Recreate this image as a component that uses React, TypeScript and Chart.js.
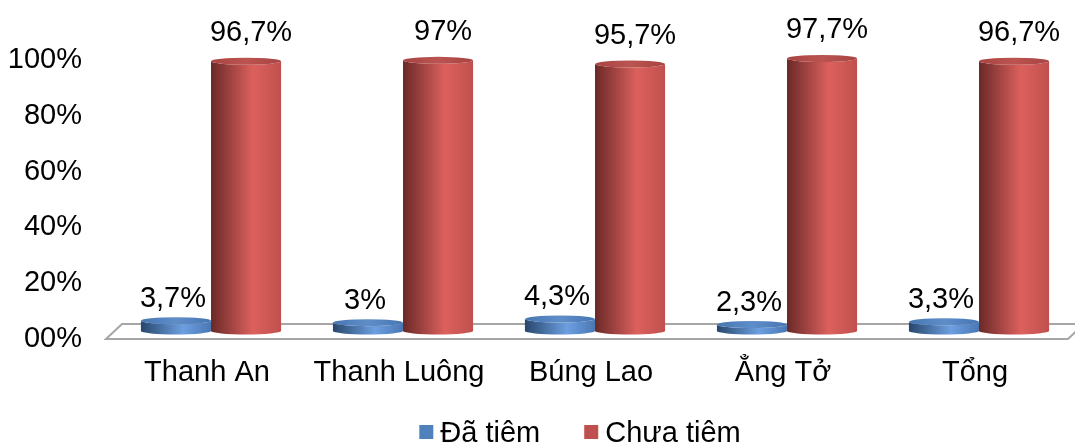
import { useEffect, useRef } from "react";
import { Chart, registerables } from "chart.js";

Chart.register(...registerables);

const categories = ["Thanh An", "Thanh Luông", "Búng Lao", "Ẳng Tở", "Tổng"];
const daTiem = [3.7, 3, 4.3, 2.3, 3.3];
const chuaTiem = [96.7, 97, 95.7, 97.7, 96.7];
const yTickLabels = ["00%", "20%", "40%", "60%", "80%", "100%"];
const seriesNames = ["Đã tiêm", "Chưa tiêm"];

const FONT = '"Liberation Sans", Arial, sans-serif';

const palettes = [
  { dark: "#27466d", light: "#6d9fe0", mid: "#4a78b3", top: "#4677b3", topLight: "#5f8dc8", legend: "#4f81bd" },
  { dark: "#6a2927", light: "#dc615d", mid: "#c0504d", top: "#a84341", topLight: "#bb5451", legend: "#c0504d" },
];
const labelOffsets = [14, 20];
const labelShiftX = [-3, 5];

const fmt = (v: number) => String(v).replace(".", ",") + "%";

function drawCylinder(ctx: CanvasRenderingContext2D, x: number, top: number, base: number, w: number, c: any) {
  const rx = w / 2;
  const ry = 3.5;
  const l = x - rx;
  const r = x + rx;
  const g = ctx.createLinearGradient(l, 0, r, 0);
  g.addColorStop(0, c.dark);
  g.addColorStop(0.6, c.light);
  g.addColorStop(1, c.mid);
  ctx.beginPath();
  ctx.moveTo(l, top);
  ctx.lineTo(l, base);
  ctx.ellipse(x, base, rx, ry, 0, Math.PI, 0, true);
  ctx.lineTo(r, top);
  ctx.ellipse(x, top, rx, ry, 0, 0, Math.PI, false);
  ctx.closePath();
  ctx.fillStyle = g;
  ctx.fill();
  const tg = ctx.createLinearGradient(l, 0, r, 0);
  tg.addColorStop(0, c.top);
  tg.addColorStop(0.5, c.topLight);
  tg.addColorStop(1, c.top);
  ctx.beginPath();
  ctx.ellipse(x, top, rx, ry, 0, 0, Math.PI * 2);
  ctx.fillStyle = tg;
  ctx.fill();
}

const floorPlugin = {
  id: "floor3d",
  beforeDatasetsDraw(chart: any) {
    const { ctx, chartArea } = chart;
    const y0 = chart.scales.y.getPixelForValue(0);
    ctx.save();
    ctx.strokeStyle = "#a6a6a6";
    ctx.lineWidth = 2;
    ctx.beginPath();
    ctx.moveTo(chartArea.left - 9, y0 + 8);
    ctx.lineTo(chartArea.left + 7, y0 - 7);
    ctx.lineTo(chartArea.right + 9, y0 - 7);
    ctx.lineTo(chartArea.right - 7, y0 + 8);
    ctx.closePath();
    ctx.stroke();
    ctx.restore();
  },
};

const cylinderPlugin = {
  id: "cylinders",
  afterDatasetsDraw(chart: any) {
    const { ctx } = chart;
    ctx.save();
    chart.data.datasets.forEach((ds: any, di: number) => {
      const meta = chart.getDatasetMeta(di);
      meta.data.forEach((el: any, i: number) => {
        const { x, y, base, width } = el.getProps(["x", "y", "base", "width"], true);
        drawCylinder(ctx, x, y, base, width, palettes[di]);
        ctx.fillStyle = "#000";
        ctx.font = `29px ${FONT}`;
        ctx.textAlign = "center";
        ctx.textBaseline = "alphabetic";
        ctx.fillText(fmt(ds.data[i]), x + labelShiftX[di], y - labelOffsets[di]);
      });
    });
    ctx.restore();
  },
};

const legendPlugin = {
  id: "customLegend",
  afterDraw(chart: any) {
    const { ctx } = chart;
    ctx.save();
    ctx.font = `29px ${FONT}`;
    const box = 14;
    const gap = 7;
    const between = 44;
    const widths = chart.data.datasets.map((d: any) => ctx.measureText(d.label).width);
    const total = widths.reduce((a: number, w: number) => a + box + gap + w, 0) + between * (widths.length - 1);
    let x = 580 - total / 2;
    const cy = 432;
    chart.data.datasets.forEach((d: any, i: number) => {
      ctx.fillStyle = palettes[i].legend;
      ctx.fillRect(x, cy - box / 2, box, box);
      x += box + gap;
      ctx.fillStyle = "#000";
      ctx.textAlign = "left";
      ctx.textBaseline = "middle";
      ctx.fillText(d.label, x, cy + 2);
      x += widths[i] + between;
    });
    ctx.restore();
  },
};

export default function App() {
  const ref = useRef<HTMLCanvasElement | null>(null);
  useEffect(() => {
    if (!ref.current) return;
    const chart = new Chart(ref.current, {
      type: "bar",
      data: {
        labels: categories,
        datasets: [
          { label: seriesNames[0], data: daTiem, backgroundColor: "rgba(0,0,0,0)", borderWidth: 0 },
          { label: seriesNames[1], data: chuaTiem, backgroundColor: "rgba(0,0,0,0)", borderWidth: 0 },
        ],
      },
      options: {
        responsive: false,
        animation: false,
        layout: { padding: { top: 52, bottom: 0, left: 0, right: 0 } },
        datasets: { bar: { categoryPercentage: 0.73, barPercentage: 1 } },
        plugins: { legend: { display: false }, tooltip: { enabled: false } },
        scales: {
          x: {
            grid: { display: false, drawTicks: false },
            border: { display: false },
            ticks: { color: "#000", font: { size: 29, family: FONT }, padding: 25, labelOffset: -4, maxRotation: 0 },
            afterFit: (s: any) => { s.height = 113; },
          },
          y: {
            min: 0,
            max: 100,
            grid: { display: false, drawTicks: false },
            border: { display: false },
            ticks: {
              stepSize: 20,
              color: "#000",
              font: { size: 29, family: FONT },
              padding: 33,
              labelOffset: 8,
              callback: (_v: any, i: number) => yTickLabels[i],
            },
            afterFit: (s: any) => { s.width = 115; },
          },
        },
      },
      plugins: [floorPlugin, cylinderPlugin, legendPlugin],
    });
    return () => chart.destroy();
  }, []);
  return (
    <div style={{ position: "fixed", left: 0, top: 0, width: 1075, height: 444, background: "#fff" }}>
      <canvas ref={ref} width={1075} height={444} />
    </div>
  );
}
